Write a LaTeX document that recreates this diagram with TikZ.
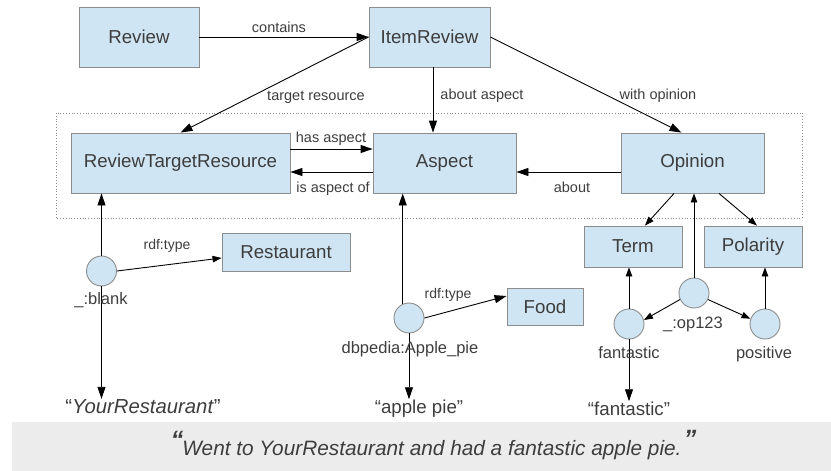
\documentclass[tikz,border=0pt]{standalone}
\usepackage{fontspec}
\setmainfont{Liberation Sans}
\usetikzlibrary{arrows.meta}
\definecolor{boxfill}{HTML}{CFE5F3}
\definecolor{boxline}{HTML}{8C8C8C}
\definecolor{txt}{HTML}{3D3D3D}
\definecolor{band}{HTML}{ECECEC}
\begin{document}
\begin{tikzpicture}[x=1pt,y=-1pt,
  cls/.style={draw=boxline,fill=boxfill,line width=0.9pt,inner sep=0pt,text=txt,font=\fontsize{18.7}{22}\selectfont},
  res/.style={circle,draw=boxline,fill=boxfill,line width=0.9pt,minimum size=30pt,inner sep=0pt},
  elab/.style={anchor=base,inner sep=0pt,text=txt,font=\fontsize{14.5}{17}\selectfont},
  rlab/.style={anchor=base,inner sep=0pt,text=txt,font=\fontsize{16.5}{19}\selectfont},
  lit/.style={anchor=base,inner sep=0pt,text=txt,font=\fontsize{18.7}{22}\selectfont},
  bigq/.style={inner sep=0pt,text=txt,font=\fontsize{25}{25}\selectfont\bfseries\itshape},
  arr/.style={draw=black,line width=0.9pt,-{Triangle[length=12pt,width=8pt]}},
  sarr/.style={draw=black,line width=0.9pt,-{Triangle[length=9pt,width=6.5pt]}}
]
\useasboundingbox (0,0) rectangle (831,471);
% band and sentence
\fill[band] (12,422) rectangle (831,471);
\node[anchor=base,inner sep=0pt,text=txt,font=\fontsize{20.8}{24}\selectfont\itshape] (sent) at (432,455) {Went to YourRestaurant and had a fantastic apple pie.};
\node[bigq] (oq) at (177,440) {“};
\node[bigq] (cq) at (690,439) {”};
% dotted frame
\draw[boxline,dotted,line width=0.8pt] (56,113) rectangle (802,218);
% classes
\node[cls,minimum width=120pt,minimum height=60pt] (review) at (139,37) {Review};
\node[cls,minimum width=121pt,minimum height=60pt] (ir) at (429.5,37) {ItemReview};
\node[cls,minimum width=219pt,minimum height=60pt] (rtr) at (180.5,163) {ReviewTargetResource};
\node[cls,minimum width=143pt,minimum height=60pt] (aspect) at (444.5,163) {Aspect};
\node[cls,minimum width=143pt,minimum height=60pt] (op) at (692.5,163) {Opinion};
\node[cls,minimum width=98pt,minimum height=41pt] (term) at (633,246.5) {Term};
\node[cls,minimum width=98pt,minimum height=41pt] (pol) at (753,246.5) {Polarity};
\node[cls,minimum width=128pt,minimum height=38pt] (rest) at (286,252) {Restaurant};
\node[cls,minimum width=76pt,minimum height=37pt] (food) at (545,306.5) {Food};
% resources
\node[res] (cb) at (101.5,271) {};
\node[res] (cd) at (409,318) {};
\node[res] (c123) at (694,293) {};
\node[res] (cf) at (629,324) {};
\node[res] (cp) at (765,324) {};
% literals
\node[lit,font=\fontsize{20.3}{24}\selectfont] (lit1) at (143,413) {“\textit{YourRestaurant}”};
\node[lit] (lit2) at (419,413) {“apple pie”};
\node[lit] (lit3) at (629,415) {“fantastic”};
% helper coordinates
\coordinate (xa) at (433,0);
\coordinate (yh) at (0,149);
\coordinate (yi) at (0,172);
% connectors
\draw[arr] (review.east) -- (ir.west);
\draw[arr] (ir.west) -- (rtr.north);
\draw[arr] (ir.south -| xa) -- (aspect.north -| xa);
\draw[arr] (ir.east) -- ([xshift=-11pt]op.north);
\draw[arr] (rtr.east |- yh) -- (aspect.west |- yh);
\draw[arr] (aspect.west |- yi) -- (rtr.east |- yi);
\draw[arr] (op.west |- yi) -- (aspect.east |- yi);
\draw[sarr] ([xshift=-18.5pt]op.south) -- ([xshift=12pt]term.north);
\draw[sarr] ([xshift=26.5pt]op.south) -- ([xshift=4pt]pol.north);
\draw[sarr] (c123.north) -- (op.south -| c123.north);
\draw[arr] (cb.north) -- (rtr.south -| cb.north);
\draw[arr] (cb.south) -- (cb.south |- lit1.north);
\draw[sarr] (cb.east) -- ([yshift=-6pt]rest.west);
\draw[arr] (cd.114) -- (aspect.south -| cd.114);
\draw[arr] (cd.south) -- (cd.south |- lit2.north);
\draw[arr] (cd.east) -- ([yshift=10.5pt]food.west);
\draw[sarr] (c123.205) -- (cf.15);
\draw[sarr] (c123.335) -- (cp.160);
\draw[sarr] (cf.north) -- (term.south -| cf.north);
\draw[sarr] (cp.north) -- (pol.south -| cp.north);
\draw[arr] (cf.south) -- (cf.south |- lit3.north);
% edge labels
\node[elab] (l1) at (279,32) {contains};
\node[elab] (l2) at (316,100) {target resource};
\node[elab] (l3) at (482,99) {about aspect};
\node[elab] (l4) at (658,99) {with opinion};
\node[elab] (l5) at (331,142) {has aspect};
\node[elab] (l6) at (333,192) {is aspect of};
\node[elab] (l7) at (572,192) {about};
\node[elab,font=\fontsize{14}{16}\selectfont] (l8) at (167,249) {rdf:type};
\node[elab,font=\fontsize{14}{16}\selectfont] (l9) at (448,298) {rdf:type};
% resource labels
\node[rlab] (lb) at (101,304) {\_:blank};
\node[rlab] (ld) at (410,353) {dbpedia:Apple\_pie};
\node[rlab] (lf) at (629,358) {fantastic};
\node[rlab] (l123) at (693,328) {\_:op123};
\node[rlab] (lp) at (764,358) {positive};
\end{tikzpicture}
\end{document}
